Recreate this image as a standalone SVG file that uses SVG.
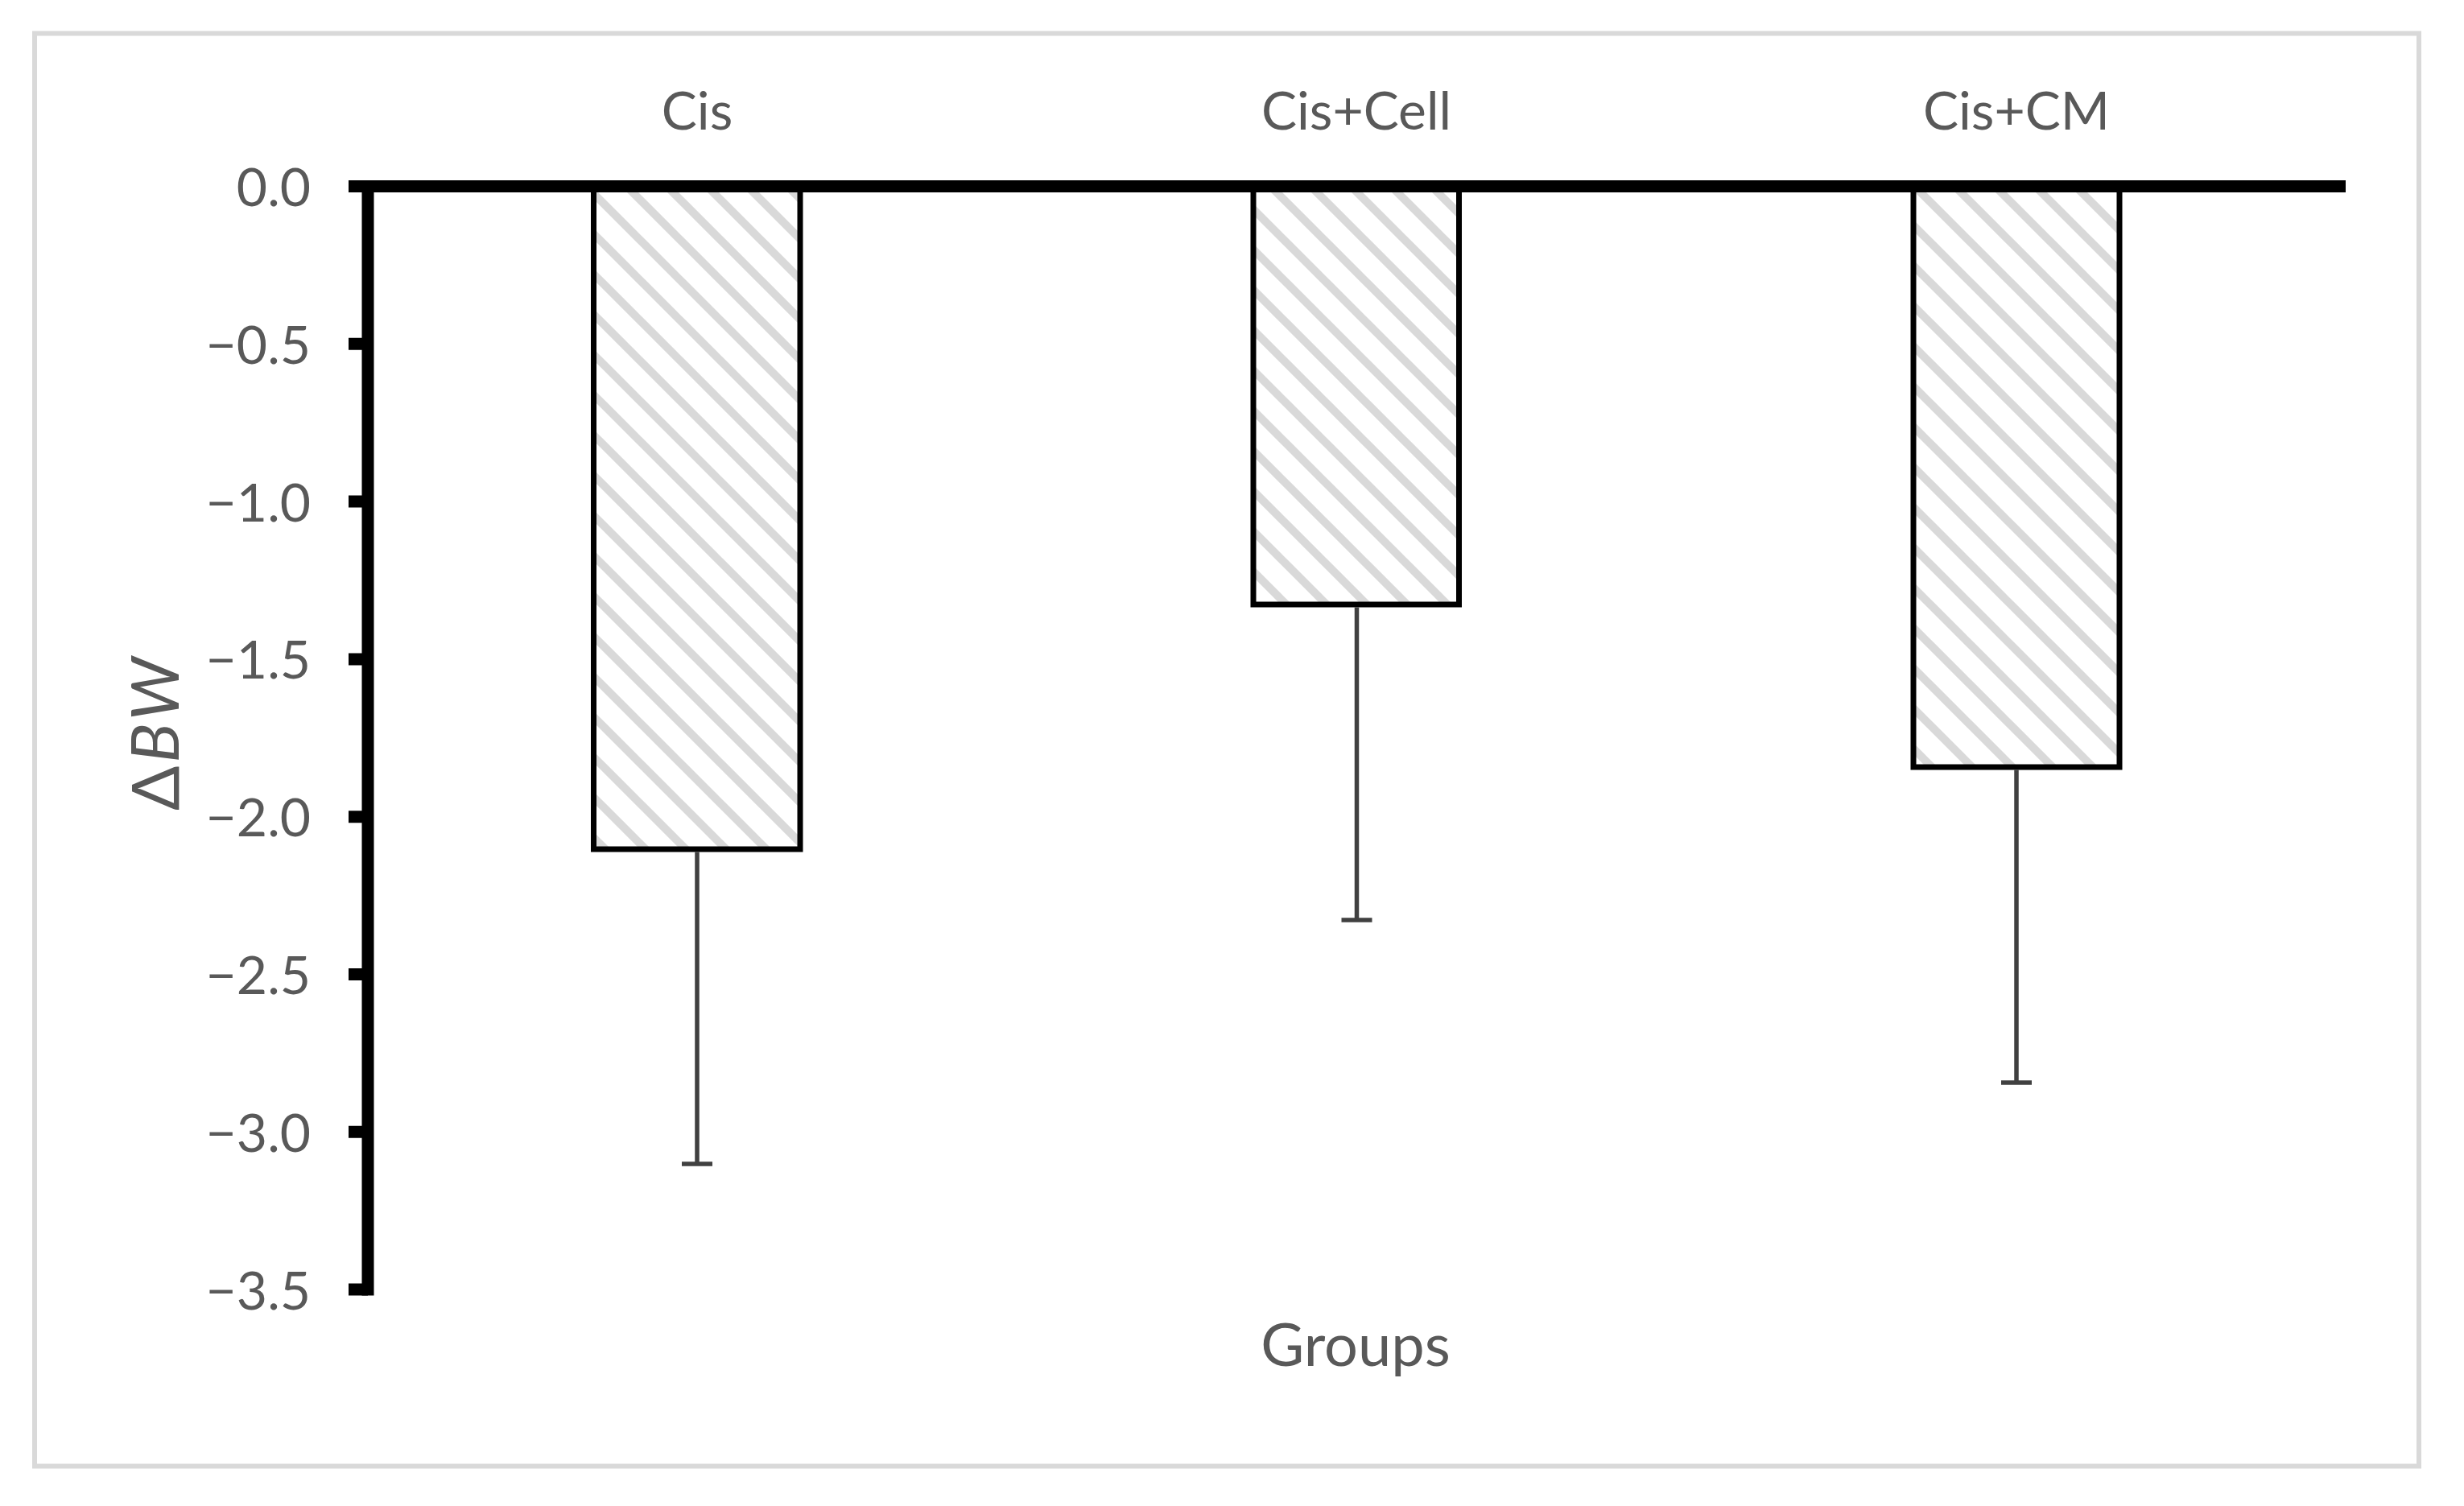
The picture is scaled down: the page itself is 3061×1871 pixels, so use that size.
<svg xmlns="http://www.w3.org/2000/svg" width="3061" height="1871" viewBox="0 0 3061 1871">
  <style>
    .lbl { font-family: Lato, "Open Sans", "Liberation Sans", sans-serif; fill: #595959; }
    .tick { font-size: 66px; text-anchor: end; }
    .cat { font-size: 66px; text-anchor: middle; }
    .title { font-size: 74px; text-anchor: middle; }
    .bar { fill: url(#hatch); stroke: #000000; stroke-width: 7; }
    .err { stroke: #404040; stroke-width: 5.5; fill: none; }
    .axis { stroke: #000000; stroke-width: 15; fill: none; }
  </style>
  <defs>
    <pattern id="hatch" patternUnits="userSpaceOnUse" x="47" y="0" width="50" height="50">
      <rect x="0" y="0" width="50" height="50" fill="#ffffff"/>
      <path d="M-5,-5 L55,55 M-15,35 L15,65 M35,-15 L65,15" stroke="#d9d9d9" stroke-width="10" fill="none"/>
    </pattern>
  </defs>

  <rect x="0" y="0" width="3061" height="1871" fill="#ffffff"/>
  <rect id="frame" x="43" y="41.5" width="2962" height="1780" fill="#ffffff" stroke="#d9d9d9" stroke-width="6"/>

  <g id="bar-cis">
    <rect class="bar" x="737.5" y="231.5" width="256.5" height="823.5"/>
  </g>
  <g id="bar-cis-cell">
    <rect class="bar" x="1557" y="231.5" width="255.5" height="519.5"/>
  </g>
  <g id="bar-cis-cm">
    <rect class="bar" x="2377" y="231.5" width="256" height="721.5"/>
  </g>

  <g id="connectors">
    <path class="err" d="M866,1058.5 V1446 M847,1446 H885"/>
    <path class="err" d="M1685.5,754.5 V1143 M1666.5,1143 H1704.5"/>
    <path class="err" d="M2505,956.5 V1345 M2486,1345 H2524"/>
  </g>

  <g id="axes">
    <path class="axis" d="M433,231.5 H2914"/>
    <path class="axis" d="M457,224 V1609.5"/>
    <path class="axis" d="M433,427.3 H457 M433,623.1 H457 M433,818.9 H457 M433,1014.7 H457 M433,1210.5 H457 M433,1406.3 H457 M433,1602 H457"/>
  </g>

  <g id="y-tick-labels" class="lbl tick">
    <text x="386" y="256">0.0</text>
    <text x="386" y="451.8">−0.5</text>
    <text x="386" y="647.6">−1.0</text>
    <text x="386" y="843.4">−1.5</text>
    <text x="386" y="1039.2">−2.0</text>
    <text x="386" y="1235">−2.5</text>
    <text x="386" y="1430.8">−3.0</text>
    <text x="386" y="1626.5">−3.5</text>
  </g>

  <g id="category-labels" class="lbl cat">
    <text x="866" y="161">Cis</text>
    <text x="1685" y="161">Cis+Cell</text>
    <text x="2505" y="161">Cis+CM</text>
  </g>

  <g id="x-title" class="lbl title">
    <text x="1684" y="1697">Groups</text>
  </g>

  <g id="y-title" class="lbl">
    <text x="0" y="0" transform="translate(222,912) rotate(-90)" font-size="82" text-anchor="middle" textLength="190" lengthAdjust="spacing">Δ<tspan font-style="italic">BW</tspan></text>
  </g>
</svg>
